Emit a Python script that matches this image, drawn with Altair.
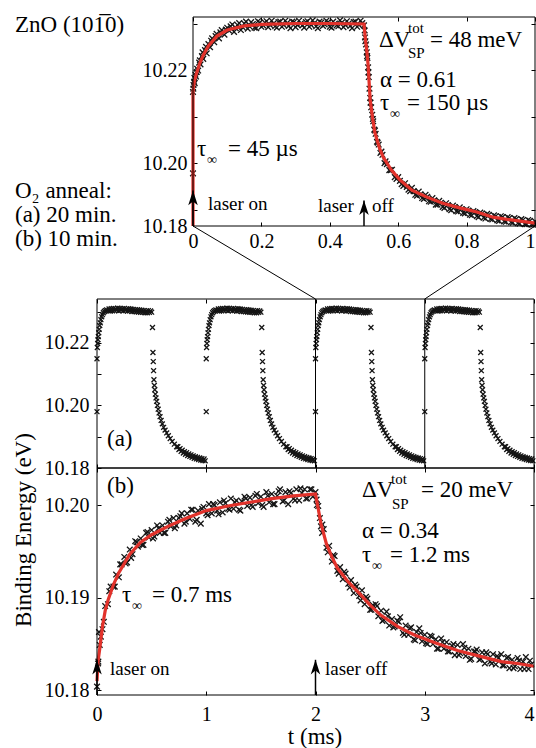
import altair as alt
import pandas as pd

W, H = 536, 748
SERIF = "Liberation Serif, Times New Roman, Times, DejaVu Serif, serif"
INK = "#151515"
RED = "#e2322b"

# ---------------------------------------------------------------------------
# Data: t in ms, binding energy in eV
# ---------------------------------------------------------------------------
# (a) 20 min O2 anneal: one laser cycle, measured points
zoom_pts = [
    (0.000, 10.1978), (0.000, 10.2153), (0.001, 10.2160), (0.0015, 10.2168),
    (0.003, 10.2175), (0.004, 10.2183), (0.005, 10.2172), (0.007, 10.2190),
    (0.009, 10.2186), (0.011, 10.2196), (0.012, 10.2203), (0.015, 10.2199),
    (0.018, 10.2216), (0.020, 10.2221), (0.022, 10.2212), (0.026, 10.2230),
    (0.028, 10.2238), (0.030, 10.2224), (0.035, 10.2243), (0.038, 10.2250),
    (0.040, 10.2236), (0.045, 10.2256), (0.050, 10.2249), (0.053, 10.2263),
    (0.056, 10.2268), (0.062, 10.2260), (0.066, 10.2273), (0.069, 10.2278),
    (0.076, 10.2268), (0.080, 10.2281), (0.084, 10.2286), (0.092, 10.2276),
    (0.096, 10.2287), (0.100, 10.2291),
    (0.105, 10.2285), (0.11, 10.2294), (0.115, 10.2298), (0.12, 10.2282),
    (0.125, 10.2290), (0.13, 10.2297), (0.135, 10.2301), (0.14, 10.2286),
    (0.145, 10.2292), (0.15, 10.2300), (0.155, 10.2304), (0.16, 10.2289),
    (0.165, 10.2294), (0.17, 10.2303), (0.175, 10.2299), (0.18, 10.2291),
    (0.185, 10.2290), (0.19, 10.2305), (0.195, 10.2302), (0.20, 10.2293),
    (0.205, 10.2296), (0.21, 10.2302), (0.215, 10.2305), (0.22, 10.2292),
    (0.225, 10.2297), (0.23, 10.2306), (0.235, 10.2300), (0.24, 10.2294),
    (0.245, 10.2291), (0.25, 10.2303), (0.255, 10.2304), (0.26, 10.2293),
    (0.265, 10.2297), (0.27, 10.2306), (0.275, 10.2301), (0.28, 10.2295),
    (0.285, 10.2290), (0.29, 10.2304), (0.295, 10.2303), (0.30, 10.2292),
    (0.305, 10.2297), (0.31, 10.2306), (0.315, 10.2300), (0.32, 10.2296),
    (0.325, 10.2291), (0.33, 10.2303), (0.335, 10.2305), (0.34, 10.2293),
    (0.345, 10.2297), (0.35, 10.2307), (0.355, 10.2301), (0.36, 10.2294),
    (0.365, 10.2290), (0.37, 10.2304), (0.375, 10.2302), (0.38, 10.2295),
    (0.385, 10.2298), (0.39, 10.2306), (0.395, 10.2303), (0.40, 10.2293),
    (0.405, 10.2291), (0.41, 10.2304), (0.415, 10.2300), (0.42, 10.2296),
    (0.425, 10.2294), (0.43, 10.2307), (0.435, 10.2302), (0.44, 10.2292),
    (0.445, 10.2297), (0.45, 10.2305), (0.455, 10.2300), (0.46, 10.2295),
    (0.465, 10.2290), (0.47, 10.2303), (0.475, 10.2304), (0.48, 10.2293),
    (0.485, 10.2297), (0.49, 10.2306), (0.495, 10.2301), (0.50, 10.2296),
    (0.502, 10.2285), (0.503, 10.2270), (0.504, 10.2262), (0.506, 10.2255),
    (0.508, 10.2238), (0.509, 10.2230), (0.510, 10.2226), (0.512, 10.2206),
    (0.513, 10.2195), (0.514, 10.2185), (0.516, 10.2160), (0.518, 10.2140),
    (0.519, 10.2130), (0.521, 10.2120), (0.524, 10.2104), (0.526, 10.2095),
    (0.527, 10.2090), (0.530, 10.2072), (0.532, 10.2070), (0.534, 10.2063),
    (0.538, 10.2046), (0.540, 10.2044), (0.543, 10.2040), (0.548, 10.2022),
    (0.551, 10.2025), (0.554, 10.2018), (0.560, 10.2000), (0.563, 10.2004),
    (0.567, 10.1998), (0.574, 10.1985), (0.578, 10.1985), (0.582, 10.1986),
    (0.590, 10.1970), (0.595, 10.1966), (0.60, 10.1970), (0.605, 10.1962),
    (0.61, 10.1955), (0.615, 10.1951), (0.62, 10.1957), (0.625, 10.1949),
    (0.63, 10.1943), (0.635, 10.1940), (0.64, 10.1947), (0.645, 10.1940),
    (0.65, 10.1932), (0.655, 10.1930), (0.66, 10.1939), (0.665, 10.1933),
    (0.67, 10.1925), (0.675, 10.1923), (0.68, 10.1932), (0.685, 10.1928),
    (0.69, 10.1918), (0.695, 10.1917), (0.70, 10.1925), (0.705, 10.1920),
    (0.71, 10.1911), (0.715, 10.1911), (0.72, 10.1919), (0.725, 10.1915),
    (0.73, 10.1906), (0.735, 10.1904), (0.74, 10.1914), (0.745, 10.1910),
    (0.75, 10.1901), (0.755, 10.1899), (0.76, 10.1909), (0.765, 10.1906),
    (0.77, 10.1897), (0.775, 10.1896), (0.78, 10.1905), (0.785, 10.1901),
    (0.79, 10.1893), (0.795, 10.1892), (0.80, 10.1901), (0.805, 10.1898),
    (0.81, 10.1889), (0.815, 10.1888), (0.82, 10.1897), (0.825, 10.1895),
    (0.83, 10.1886), (0.835, 10.1884), (0.84, 10.1894), (0.845, 10.1892),
    (0.85, 10.1883), (0.855, 10.1881), (0.86, 10.1891), (0.865, 10.1889),
    (0.87, 10.1880), (0.875, 10.1879), (0.88, 10.1888), (0.885, 10.1886),
    (0.89, 10.1877), (0.895, 10.1876), (0.90, 10.1886), (0.905, 10.1884),
    (0.91, 10.1875), (0.915, 10.1874), (0.92, 10.1884), (0.925, 10.1882),
    (0.93, 10.1873), (0.935, 10.1872), (0.94, 10.1882), (0.945, 10.1880),
    (0.95, 10.1871), (0.955, 10.1870), (0.96, 10.1880), (0.965, 10.1878),
    (0.97, 10.1869), (0.975, 10.1869), (0.98, 10.1878), (0.985, 10.1876),
    (0.99, 10.1868), (0.995, 10.1868), (1.00, 10.1875),
]
# stretched-exponential fit through the cycle above
zoom_fit = [
    (0.0, 10.1865), (0.0, 10.2151), (0.002, 10.2166), (0.005, 10.2179),
    (0.01, 10.2192), (0.02, 10.2215), (0.03, 10.2232), (0.045, 10.2252),
    (0.07, 10.2273), (0.1, 10.2286), (0.15, 10.2295), (0.2, 10.2298),
    (0.3, 10.2300), (0.4, 10.2300), (0.5, 10.2299), (0.502, 10.2282),
    (0.505, 10.2260), (0.508, 10.2243), (0.512, 10.2211), (0.518, 10.2136),
    (0.525, 10.2097), (0.532, 10.2065), (0.545, 10.2033), (0.556, 10.2013),
    (0.58, 10.1985), (0.605, 10.1964), (0.64, 10.1942), (0.684, 10.1927),
    (0.73, 10.1914), (0.78, 10.1904), (0.83, 10.1895), (0.877, 10.1884),
    (0.93, 10.1878), (1.0, 10.1871),
]

# (a) the 4 ms trace: one 1 ms cycle, recorded identically at each start
cycle_pts = [
    (0.000, 10.1980), (0.000, 10.2149), (0.003, 10.2185), (0.006, 10.2198),
    (0.009, 10.2210), (0.012, 10.2220), (0.016, 10.2232), (0.020, 10.2243),
    (0.025, 10.2255), (0.030, 10.2264), (0.036, 10.2274), (0.043, 10.2283),
    (0.050, 10.2290), (0.058, 10.2296), (0.067, 10.2300), (0.077, 10.2303),
    (0.088, 10.2305), (0.10, 10.2303),
    (0.11, 10.2308), (0.12, 10.2301), (0.13, 10.2309), (0.14, 10.2302),
    (0.15, 10.2310), (0.16, 10.2303), (0.17, 10.2309), (0.18, 10.2304),
    (0.19, 10.2311), (0.20, 10.2302), (0.21, 10.2310), (0.22, 10.2304),
    (0.23, 10.2309), (0.24, 10.2302), (0.25, 10.2310), (0.26, 10.2303),
    (0.27, 10.2308), (0.28, 10.2301), (0.29, 10.2309), (0.30, 10.2302),
    (0.31, 10.2308), (0.32, 10.2300), (0.33, 10.2307), (0.34, 10.2300),
    (0.35, 10.2306), (0.36, 10.2299), (0.37, 10.2306), (0.38, 10.2298),
    (0.39, 10.2305), (0.40, 10.2297), (0.41, 10.2304), (0.42, 10.2297),
    (0.43, 10.2303), (0.44, 10.2296), (0.45, 10.2302), (0.46, 10.2296),
    (0.47, 10.2303), (0.48, 10.2297), (0.49, 10.2302), (0.50, 10.2298),
    (0.508, 10.2249), (0.512, 10.2169), (0.515, 10.2140), (0.518, 10.2111),
    (0.521, 10.2082), (0.525, 10.2064), (0.529, 10.2050), (0.534, 10.2036),
    (0.540, 10.2024), (0.546, 10.2013), (0.553, 10.2000), (0.560, 10.1988),
    (0.568, 10.1976), (0.577, 10.1964), (0.587, 10.1952), (0.598, 10.1941),
    (0.610, 10.1930), (0.623, 10.1921), (0.638, 10.1912), (0.653, 10.1903),
    (0.670, 10.1894), (0.688, 10.1885), (0.708, 10.1876), (0.729, 10.1868),
    (0.74, 10.1868), (0.75, 10.1859), (0.76, 10.1862), (0.77, 10.1853),
    (0.78, 10.1857), (0.79, 10.1848), (0.80, 10.1852), (0.81, 10.1844),
    (0.82, 10.1849), (0.83, 10.1840), (0.84, 10.1845), (0.85, 10.1837),
    (0.86, 10.1842), (0.87, 10.1834), (0.88, 10.1839), (0.89, 10.1831),
    (0.90, 10.1836), (0.91, 10.1829), (0.92, 10.1834), (0.93, 10.1827),
    (0.94, 10.1832), (0.95, 10.1825), (0.96, 10.1830), (0.97, 10.1824),
    (0.98, 10.1829), (0.99, 10.1823),
]
cycle_starts = [0, 1, 2, 3]
zoom_window = [2, 3]          # cycle shown enlarged in the top panel

# (b) 10 min O2 anneal: 4 ms cycle
slow_pts = [
    (0.000, 10.1804), (0.025, 10.1849), (0.050, 10.1866), (0.075, 10.1891), (0.100, 10.1893),
    (0.125, 10.1912), (0.150, 10.1912), (0.175, 10.1925), (0.200, 10.1922), (0.225, 10.1936),
    (0.250, 10.1944), (0.275, 10.1938), (0.300, 10.1952), (0.325, 10.1947), (0.350, 10.1961),
    (0.375, 10.1955), (0.400, 10.1964), (0.425, 10.1957), (0.450, 10.1970), (0.475, 10.1965),
    (0.500, 10.1973), (0.525, 10.1966), (0.550, 10.1978), (0.575, 10.1970), (0.600, 10.1978),
    (0.625, 10.1970), (0.650, 10.1982), (0.675, 10.1977), (0.700, 10.1986), (0.725, 10.1978),
    (0.750, 10.1986), (0.775, 10.1991), (0.800, 10.1980), (0.825, 10.1991), (0.850, 10.1985),
    (0.875, 10.1995), (0.900, 10.1982), (0.925, 10.1994), (0.950, 10.1980), (0.975, 10.1998),
    (1.000, 10.1991), (1.025, 10.2001), (1.050, 10.1991), (1.075, 10.2000), (1.100, 10.1994),
    (1.125, 10.2003), (1.150, 10.1992), (1.175, 10.2002), (1.200, 10.1996), (1.225, 10.2007),
    (1.250, 10.1996), (1.275, 10.2005), (1.300, 10.1995), (1.325, 10.2004), (1.350, 10.2009),
    (1.375, 10.1999), (1.400, 10.2008), (1.425, 10.1998), (1.450, 10.2010), (1.475, 10.2002),
    (1.500, 10.2009), (1.525, 10.1998), (1.550, 10.2014), (1.575, 10.2003), (1.600, 10.2012),
    (1.625, 10.2001), (1.650, 10.2010), (1.675, 10.2017), (1.700, 10.2004), (1.725, 10.2014),
    (1.750, 10.2001), (1.775, 10.2013), (1.800, 10.2007), (1.825, 10.2017), (1.850, 10.2005),
    (1.875, 10.2013), (1.900, 10.2017), (1.925, 10.2007), (1.950, 10.2017), (1.975, 10.2009),
    (2.000, 10.2014), (2.025, 10.1999), (2.050, 10.1977), (2.075, 10.1974), (2.100, 10.1954),
    (2.125, 10.1956), (2.150, 10.1939), (2.175, 10.1945), (2.200, 10.1929), (2.225, 10.1933),
    (2.250, 10.1920), (2.275, 10.1926), (2.300, 10.1915), (2.325, 10.1919), (2.350, 10.1905),
    (2.375, 10.1912), (2.400, 10.1902), (2.425, 10.1908), (2.450, 10.1893), (2.475, 10.1899),
    (2.500, 10.1887), (2.525, 10.1892), (2.550, 10.1893), (2.575, 10.1880), (2.600, 10.1886),
    (2.625, 10.1876), (2.650, 10.1885), (2.675, 10.1870), (2.700, 10.1877), (2.725, 10.1869),
    (2.750, 10.1875), (2.775, 10.1879), (2.800, 10.1862), (2.825, 10.1870), (2.850, 10.1860),
    (2.875, 10.1868), (2.900, 10.1855), (2.925, 10.1863), (2.950, 10.1867), (2.975, 10.1853),
    (3.000, 10.1860), (3.025, 10.1850), (3.050, 10.1859), (3.075, 10.1850), (3.100, 10.1855),
    (3.125, 10.1845), (3.150, 10.1856), (3.175, 10.1845), (3.200, 10.1852), (3.225, 10.1842),
    (3.250, 10.1848), (3.275, 10.1838), (3.300, 10.1849), (3.325, 10.1840), (3.350, 10.1850),
    (3.375, 10.1837), (3.400, 10.1845), (3.425, 10.1834), (3.450, 10.1842), (3.475, 10.1844),
    (3.500, 10.1833), (3.525, 10.1841), (3.550, 10.1829), (3.575, 10.1839), (3.600, 10.1831),
    (3.625, 10.1839), (3.650, 10.1828), (3.675, 10.1835), (3.700, 10.1839), (3.725, 10.1827),
    (3.750, 10.1835), (3.775, 10.1824), (3.800, 10.1833), (3.825, 10.1826), (3.850, 10.1835),
    (3.875, 10.1823), (3.900, 10.1831), (3.925, 10.1836), (3.950, 10.1823), (3.975, 10.1828),
    (0.010, 10.1829), (0.018, 10.1863), (0.035, 10.1858), (2.010, 10.2006),
    (2.040, 10.1986), (2.060, 10.1970),
    (0.0125, 10.1831), (0.0625, 10.1874), (0.1125, 10.1907), (0.1625, 10.1912), (0.2125, 10.1936),
    (0.2625, 10.1937), (0.3125, 10.1943), (0.3625, 10.1960), (0.4125, 10.1957), (0.4625, 10.1971),
    (0.5125, 10.1964), (0.5625, 10.1975), (0.6125, 10.1970), (0.6625, 10.1984), (0.7125, 10.1975),
    (0.7625, 10.1988), (0.8125, 10.1982), (0.8625, 10.1995), (0.9125, 10.1984), (0.9625, 10.1996),
    (1.0125, 10.1989), (1.0625, 10.2001), (1.1125, 10.1990), (1.1625, 10.2005), (1.2125, 10.1995),
    (1.2625, 10.2003), (1.3125, 10.1994), (1.3625, 10.2007), (1.4125, 10.2000), (1.4625, 10.2012),
    (1.5125, 10.2000), (1.5625, 10.2010), (1.6125, 10.2001), (1.6625, 10.2015), (1.7125, 10.2005),
    (1.7625, 10.2015), (1.8125, 10.2005), (1.8625, 10.2018), (1.9125, 10.2007), (1.9625, 10.2017),
    (2.0125, 10.2000), (2.0625, 10.1979), (2.1125, 10.1949), (2.1625, 10.1946), (2.2125, 10.1926),
    (2.2625, 10.1928), (2.3125, 10.1911), (2.3625, 10.1914), (2.4125, 10.1897), (2.4625, 10.1901),
    (2.5125, 10.1887), (2.5625, 10.1891), (2.6125, 10.1875), (2.6625, 10.1880), (2.7125, 10.1868),
    (2.7625, 10.1874), (2.8125, 10.1860), (2.8625, 10.1867), (2.9125, 10.1854), (2.9625, 10.1862),
    (3.0125, 10.1851), (3.0625, 10.1858), (3.1125, 10.1845), (3.1625, 10.1852), (3.2125, 10.1842),
    (3.2625, 10.1850), (3.3125, 10.1838), (3.3625, 10.1846), (3.4125, 10.1833), (3.4625, 10.1842),
    (3.5125, 10.1834), (3.5625, 10.1841), (3.6125, 10.1829), (3.6625, 10.1837), (3.7125, 10.1827),
    (3.7625, 10.1836), (3.8125, 10.1824), (3.8625, 10.1832), (3.9125, 10.1823), (3.9625, 10.1832),
]
slow_fit = [
    (0.0, 10.1810), (0.01, 10.1832), (0.025, 10.1845), (0.05, 10.1869), (0.075, 10.1886),
    (0.1, 10.1897), (0.15, 10.1914), (0.2, 10.1927), (0.3, 10.1947), (0.4, 10.1960),
    (0.5, 10.1968), (0.65, 10.1977), (0.8, 10.1985), (1.0, 10.1994), (1.2, 10.1999),
    (1.4, 10.2003), (1.6, 10.2007), (1.8, 10.2010), (2.0, 10.2012), (2.05, 10.1980),
    (2.1, 10.1958), (2.15, 10.1944), (2.2, 10.1932), (2.3, 10.1917), (2.4, 10.1905),
    (2.5, 10.1892), (2.6, 10.1881), (2.75, 10.1869), (2.9, 10.1860), (3.1, 10.1851),
    (3.3, 10.1843), (3.5, 10.1837), (3.7, 10.1831), (3.85, 10.1829), (4.0, 10.1826),
]

laser_zoom = [0.0, 0.5]       # laser on / off within the detailed cycle
laser_slow = [0.0, 2.0]

# ---------------------------------------------------------------------------
# Panel geometry (left, right, top, bottom in px) and axis domains
# ---------------------------------------------------------------------------
ZOOM_BOX = (193, 535, 17, 226)
TRACE_BOX = (97, 534, 299, 468)
SLOW_BOX = (97, 534, 468, 695)
ZOOM_X, ZOOM_Y = [0, 1], [10.1865, 10.2314]
TRACE_X, TRACE_Y = [0, 4], [10.18, 10.234]
SLOW_X, SLOW_Y = [0, 4], [10.1795, 10.204]

XMARK = "M-1,-1L1,1M-1,1L1,-1"
ARROWHEAD = "M0,0L0.55,1.7L0,1.25L-0.55,1.7Z"
ONE = pd.DataFrame({"k": [0]})


def scales(box, xd, yd):
    l, r, t, b = box
    return (alt.Scale(domain=xd, range=[l, r], nice=False, zero=False),
            alt.Scale(domain=yd, range=[b, t], nice=False, zero=False))


def tick_axis(orient, offset, values):
    return alt.Axis(orient=orient, offset=offset, values=values, labels=False,
                    domain=False, grid=False, ticks=True, tickSize=4,
                    tickWidth=1, tickColor="black", title=None)


def ticks_low(box, xv, yv):
    # ticks pointing into the panel from its bottom and left edges
    l, r, t, b = box
    return tick_axis("top", -b, xv), tick_axis("right", l - W, yv)


def ticks_high(box, xv, yv):
    # ticks pointing into the panel from its top and right edges
    l, r, t, b = box
    return tick_axis("bottom", t - H, xv), tick_axis("left", -r, yv)


def x_label_axis(box, values, fmt, pad, last):
    l, r, t, b = box
    # the last label sits against the right edge of the figure
    align = {"condition": {"test": f"datum.value == {last}", "value": "right"},
             "value": "center"}
    return alt.Axis(orient="bottom", offset=b - H, values=values, format=fmt,
                    ticks=False, domain=False, grid=False, labelFlush=False,
                    labelOverlap=False, labelPadding=pad, labelAlign=align, title=None)


def y_label_axis(box, values, pad, **kw):
    l, r, t, b = box
    return alt.Axis(orient="left", offset=-l, values=values, format=".2f",
                    ticks=False, domain=False, grid=False, labelOverlap=False,
                    labelPadding=pad, title=None, **kw)


def frame(box, xd, yd, xv, yv):
    sx, sy = scales(box, xd, yd)
    ax, ay = ticks_high(box, xv, yv)
    return alt.Chart(ONE).mark_rect(fillOpacity=0, stroke="black", strokeWidth=1).encode(
        x=alt.X(datum=xd[0], type="quantitative", scale=sx, axis=ax),
        x2=alt.X2(datum=xd[1]),
        y=alt.Y(datum=yd[0], type="quantitative", scale=sy, axis=ay),
        y2=alt.Y2(datum=yd[1]),
    )


def scatter(df, box, xd, yd, xaxis, yaxis, size, width):
    sx, sy = scales(box, xd, yd)
    return alt.Chart(df).mark_point(shape=XMARK, filled=False, color=INK, size=size,
                                    strokeWidth=width, opacity=1).encode(
        x=alt.X("t:Q", scale=sx, axis=xaxis),
        y=alt.Y("e:Q", scale=sy, axis=yaxis),
    )


def fit_line(df, box, xd, yd, xv, yv):
    sx, sy = scales(box, xd, yd)
    ax, ay = ticks_low(box, xv, yv)
    return alt.Chart(df).mark_line(color=RED, strokeWidth=3.2).encode(
        x=alt.X("t:Q", scale=sx, axis=ax),
        y=alt.Y("e:Q", scale=sy, axis=ay),
        order=alt.Order("i:Q"),
    )


def arrow(box, xd, yd, t, tip):
    sx, sy = scales(box, xd, yd)
    shaft = alt.Chart(ONE).mark_rule(color="black", strokeWidth=1.5).encode(
        x=alt.X(datum=t, type="quantitative", scale=sx, axis=None),
        y=alt.Y(datum=yd[0], type="quantitative", scale=sy, axis=None),
        y2=alt.Y2(datum=tip),
    )
    head = alt.Chart(ONE).mark_point(shape=ARROWHEAD, filled=True, color="black",
                                     size=300, opacity=1).encode(
        x=alt.X(datum=t, type="quantitative", scale=sx, axis=None),
        y=alt.Y(datum=tip, type="quantitative", scale=sy, axis=None),
    )
    return [shaft, head]


def label(text, x, y, size=23, align="left", **kw):
    return alt.Chart(ONE).mark_text(text=text, font=SERIF, fontSize=size, align=align,
                                    baseline="alphabetic", color="black", **kw).encode(
        x=alt.value(x), y=alt.value(y))


def link(x1, y1, x2, y2):
    return alt.Chart(ONE).mark_rule(color="black", strokeWidth=1).encode(
        x=alt.value(x1), y=alt.value(y1), x2=alt.value(x2), y2=alt.value(y2))


def frame_df(pts):
    return pd.DataFrame({"t": [p[0] for p in pts], "e": [p[1] for p in pts],
                         "i": list(range(len(pts)))})


zoom_df = frame_df(zoom_pts)
zoom_fit_df = frame_df(zoom_fit)
trace_df = pd.DataFrame({"t": [s + p[0] for s in cycle_starts for p in cycle_pts],
                         "e": [p[1] for s in cycle_starts for p in cycle_pts]})
slow_df = frame_df(slow_pts)
slow_fit_df = frame_df(slow_fit)

layers = []

# ---- top panel: enlarged cycle of (a) ----
zx_ticks = [0, 0.2, 0.4, 0.6, 0.8, 1]
zy_ticks = [10.19, 10.20, 10.21, 10.22, 10.23]
layers.append(scatter(
    zoom_df, ZOOM_BOX, ZOOM_X, ZOOM_Y,
    x_label_axis(ZOOM_BOX, zx_ticks, "~g", 5, 1),
    y_label_axis(ZOOM_BOX, [ZOOM_Y[0], 10.20, 10.22], 6,
                 labelExpr="datum.value < 10.19 ? '10.18' : format(datum.value, '.2f')"),
    32, 1.3))
layers.append(fit_line(zoom_fit_df, ZOOM_BOX, ZOOM_X, ZOOM_Y, zx_ticks, zy_ticks))
layers.append(frame(ZOOM_BOX, ZOOM_X, ZOOM_Y, zx_ticks, zy_ticks))
layers += arrow(ZOOM_BOX, ZOOM_X, ZOOM_Y, laser_zoom[0], 10.1941)
layers += arrow(ZOOM_BOX, ZOOM_X, ZOOM_Y, laser_zoom[1], 10.1920)

# ---- middle panel: (a) trace ----
tx_ticks = [0, 1, 2, 3, 4]
ty_ticks = [10.18, 10.19, 10.20, 10.21, 10.22, 10.23]
layers.append(scatter(trace_df, TRACE_BOX, TRACE_X, TRACE_Y, None,
                      y_label_axis(TRACE_BOX, [10.18, 10.20, 10.22], 8), 24, 1.3))
sx_t, sy_t = scales(TRACE_BOX, TRACE_X, TRACE_Y)
ax_t, ay_t = ticks_low(TRACE_BOX, tx_ticks, ty_ticks)
layers.append(alt.Chart(pd.DataFrame({"t": zoom_window})).mark_rule(
    color="black", strokeWidth=1).encode(
    x=alt.X("t:Q", scale=sx_t, axis=ax_t),
    y=alt.Y(datum=TRACE_Y[0], type="quantitative", scale=sy_t, axis=ay_t),
    y2=alt.Y2(datum=TRACE_Y[1]),
))
layers.append(frame(TRACE_BOX, TRACE_X, TRACE_Y, tx_ticks, ty_ticks))

# ---- bottom panel: (b) ----
sy_ticks = [10.18, 10.19, 10.20]
layers.append(scatter(slow_df, SLOW_BOX, SLOW_X, SLOW_Y,
                      x_label_axis(SLOW_BOX, tx_ticks, "~g", 9, 4),
                      y_label_axis(SLOW_BOX, sy_ticks, 8), 32, 1.3))
layers.append(fit_line(slow_fit_df, SLOW_BOX, SLOW_X, SLOW_Y, tx_ticks, sy_ticks))
layers.append(frame(SLOW_BOX, SLOW_X, SLOW_Y, tx_ticks, sy_ticks))
layers += arrow(SLOW_BOX, SLOW_X, SLOW_Y, laser_slow[0], 10.1833)
layers += arrow(SLOW_BOX, SLOW_X, SLOW_Y, laser_slow[1], 10.1833)

# ---- lines tying the enlarged cycle to its place in the trace ----
zl, zr, zt, zb = ZOOM_BOX
tl, tr, tt, tb = TRACE_BOX


def trace_px(t):
    return tl + (t - TRACE_X[0]) / (TRACE_X[1] - TRACE_X[0]) * (tr - tl)


layers.append(link(zl, zb, trace_px(zoom_window[0]), tt))
layers.append(link(zr, zb, trace_px(zoom_window[1]), tt))

# ---- text ----
layers += [
    label("ZnO (101\u03050)", 15, 32),
    label("O\u2082 anneal:", 15, 198),
    label("(a) 20 min.", 15, 222),
    label("(b) 10 min.", 15, 246),
    label("\u0394V", 379, 47), label("tot", 408, 33, size=15), label("SP", 408, 58, size=15),
    label("= 48 meV", 430, 47),
    label("\u03b1 = 0.61", 380, 87),
    label("\u03c4", 380, 110), label("\u221e", 390, 118, size=14), label("= 150 \u00b5s", 407, 110),
    label("\u03c4", 197, 156), label("\u221e", 207, 164, size=14), label("= 45 \u00b5s", 228, 156),
    label("laser on", 208, 210, size=19),
    label("laser", 318, 212, size=19), label("off", 372, 212, size=19),
    label("(a)", 107, 446),
    label("(b)", 107, 493),
    label("\u0394V", 362, 497), label("tot", 391, 484, size=15), label("SP", 392, 509, size=15),
    label("= 20 meV", 421, 497),
    label("\u03b1 = 0.34", 362, 538),
    label("\u03c4", 362, 562), label("\u221e", 372, 570, size=14), label("= 1.2 ms", 390, 562),
    label("\u03c4", 122, 602), label("\u221e", 132, 610, size=14), label("= 0.7 ms", 152, 602),
    label("laser on", 110, 675, size=19),
    label("laser off", 325, 675, size=19),
    label("t (ms)", 315, 744, align="center"),
    label("Binding Energy (eV)", 31, 530, align="center", angle=270),
]

chart = alt.layer(*layers).resolve_scale(
    x="independent", y="independent"
).properties(
    width=W, height=H, padding=0, background="white",
    autosize=alt.AutoSizeParams(type="none"),
).configure_axis(
    labelFont=SERIF, labelFontSize=20, labelColor="black",
).configure_view(stroke=None)

chart.save("out.html", embed_options={"renderer": "svg", "actions": False})
